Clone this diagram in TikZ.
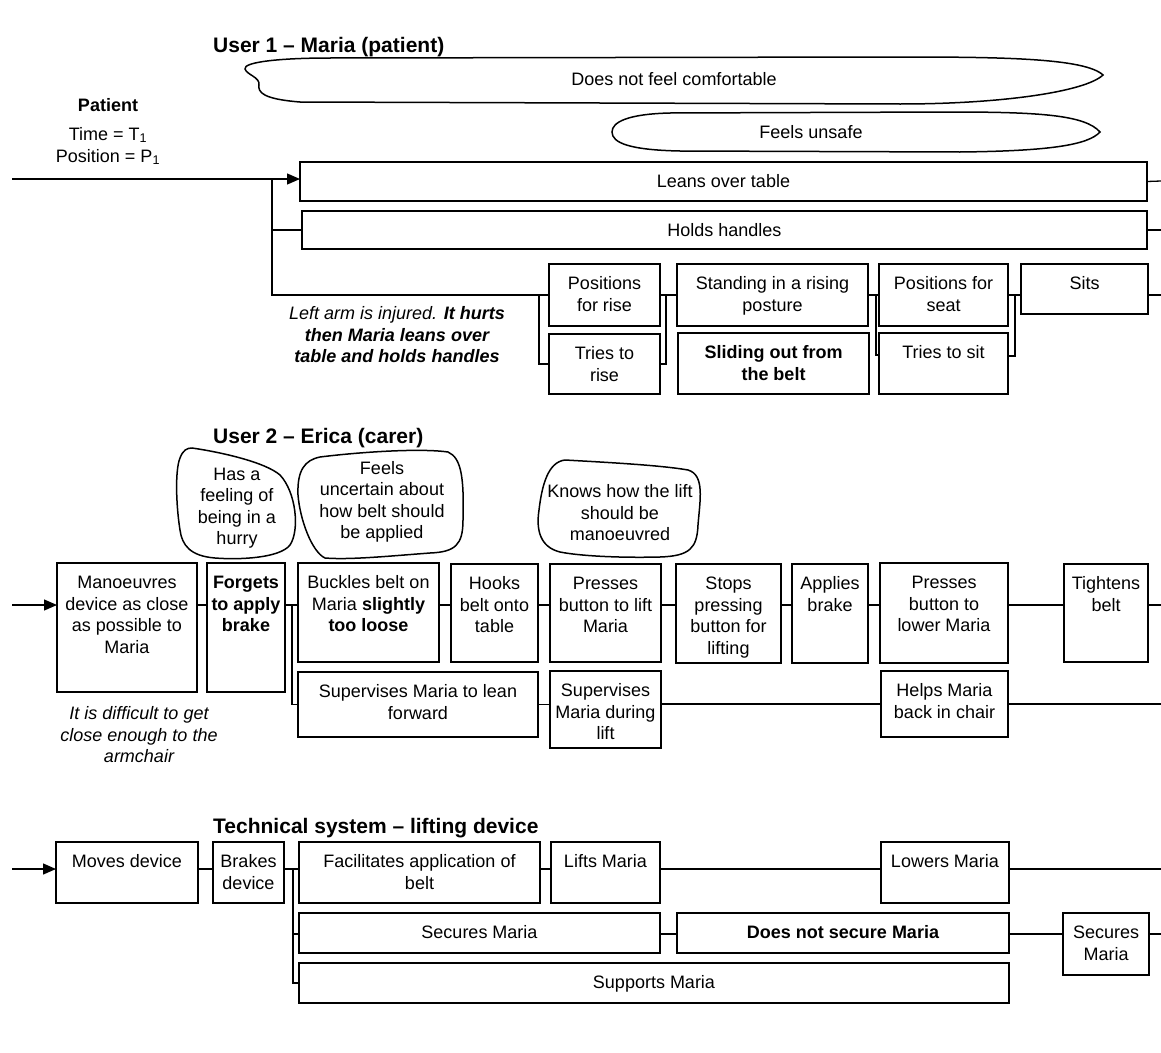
\documentclass[tikz,border=0pt]{standalone}
\usepackage{fontspec}
\setmainfont{Liberation Sans}
\usetikzlibrary{arrows.meta,calc}
\newcommand\fs{\fontsize{18}{21.5}\selectfont}
\tikzset{
  box/.style={draw, line width=1.5pt, inner sep=0pt, outer sep=0pt, font=\fs},
  ln/.style={line width=1.3pt},
  arr/.style={line width=1.3pt, -{Triangle[length=13pt,width=11pt]}},
  txt/.style={font=\fs, align=center, inner sep=0pt},
  ttl/.style={font=\fontsize{21}{25}\selectfont\bfseries, inner sep=0pt, anchor=west},
  blob/.style={line width=1.5pt},
}
\newcommand\bx[6]{%
  \pgfmathsetmacro\bxw{#4-#2}\pgfmathsetmacro\bxh{#5-#3}%
  \node[box, minimum width=\bxw pt, minimum height=\bxh pt] (#1) at ({(#2+#4)/2},{(#3+#5)/2})
    {\parbox[c][\bxh pt][t]{\bxw pt}{\centering\vspace*{10.9pt}\strut #6\par}};}
\begin{document}
\begin{tikzpicture}[x=1pt,y=-1pt]
\fill[white] (0,0) rectangle (1161,1052);
\useasboundingbox (0,0) rectangle (1161,1052);
% ---------- titles ----------
\node[ttl] (title1) at (213,47) {User 1 – Maria (patient)};
\node[ttl] (title2) at (213,438) {User 2 – Erica (carer)};
\node[ttl] (title3) at (213,828) {Technical system – lifting device};
% ---------- patient label ----------
\node[txt, font=\fs\bfseries] (patient) at (108,105) {Patient};
\node[txt] (time) at (108,135) {Time = T\textsubscript{1}};
\node[txt] (pos) at (108,157) {Position = P\textsubscript{1}};
% ---------- clouds (user 1) ----------
\draw[blob] (1103,75) .. controls (1085,58) and (1000,57) .. (900,57) -- (330,58)
  .. controls (280,58) and (243,62) .. (245,69) .. controls (247,75) and (260,77) .. (259,85)
  .. controls (258,92) and (262,99) .. (300,102) -- (900,104)
  .. controls (1000,104) and (1085,92) .. (1103,75) -- cycle;
\node[txt] (comf) at (674,79) {Does not feel comfortable};
\draw[blob] (1100,132) .. controls (1085,115) and (1040,112) .. (950,112) -- (670,113)
  .. controls (628,114) and (612,122) .. (612,132) .. controls (612,143) and (630,150) .. (680,151)
  -- (960,152) .. controls (1050,151) and (1088,145) .. (1100,132) -- cycle;
\node[txt] (unsafe) at (811,132) {Feels unsafe};
% ---------- user 1 boxes ----------
\bx{leans}{300}{162}{1147}{201}{Leans over table}
\bx{holds}{302}{211}{1147}{249}{Holds handles}
\bx{posrise}{549}{264}{660}{326}{Positions\\for rise}
\bx{tryrise}{549}{334}{660}{394}{Tries to\\rise}
\bx{standing}{677}{264}{868}{326}{Standing in a rising\\posture}
\bx{sliding}{678}{333}{869}{394}{\bfseries Sliding out from\\the belt}
\bx{posseat}{879}{264}{1008}{326}{Positions for\\seat}
\bx{trysit}{879}{333}{1008}{394}{Tries to sit}
\bx{sits}{1021}{264}{1148}{314}{Sits}
\node[txt] (note1) at (397,335) {\itshape Left arm is injured. \bfseries It hurts\\\bfseries\itshape then Maria leans over\\\bfseries\itshape table and holds handles};
% connectors user 1
\coordinate (s1) at (12,179);
\coordinate (j1) at (272,179);
\coordinate (j1b) at (272,295);
\coordinate (f1) at (539,295);
\coordinate (m1) at (666,295);
\coordinate (f2) at (876,295);
\coordinate (f2b) at (876,355);
\coordinate (m2) at (1015,295);
\coordinate (m2b) at (1015,356);
\coordinate (t1) at (1161,181);
\coordinate (t2) at (1161,230);
\coordinate (t3) at (1161,295);
\draw[arr] (s1) -- (s1 -| leans.west);
\draw[ln] (j1) |- (holds.west);
\draw[ln] (j1) -- (j1b) -- (j1b -| posrise.west);
\draw[ln] (f1) |- (tryrise.west);
\draw[ln] (tryrise.east) -| (m1);
\draw[ln] (m1 -| posrise.east) -- (m1 -| standing.west);
\draw[ln] (f2 -| standing.east) -- (f2 -| posseat.west);
\draw[ln] (f2) -- (f2b) -- (f2b -| trysit.west);
\draw[ln] (m2b -| trysit.east) -- (m2b) -- (m2);
\draw[ln] (m2 -| posseat.east) -- (m2 -| sits.west);
\draw[ln] (leans.east) -- (t1);
\draw[ln] (holds.east) -- (t2);
\draw[ln] (t3 -| sits.east) -- (t3);
% ---------- user 2 bubbles ----------
\draw[blob] (192,448) .. controls (220,452) and (265,462) .. (280,475)
  .. controls (296,492) and (300,530) .. (290,545) .. controls (280,558) and (240,560) .. (215,558)
  .. controls (190,556) and (182,545) .. (180,530) .. controls (176,505) and (175,470) .. (180,458)
  .. controls (183,450) and (187,448) .. (192,448) -- cycle;
\node[txt] (hurry) at (237,508) {Has a\\feeling of\\being in a\\hurry};
\draw[blob] (320,457) .. controls (360,452) and (420,448) .. (448,452)
  .. controls (462,458) and (464,480) .. (463,520) .. controls (463,545) and (455,552) .. (430,553)
  .. controls (390,556) and (350,560) .. (325,558) .. controls (312,552) and (300,520) .. (298,495)
  .. controls (297,470) and (305,460) .. (320,457) -- cycle;
\node[txt] (uncertain) at (382,502) {Feels\\uncertain about\\how belt should\\be applied};
\draw[blob] (565,460) .. controls (600,462) and (660,465) .. (688,470)
  .. controls (705,475) and (700,500) .. (698,525) .. controls (697,548) and (690,556) .. (660,557)
  .. controls (620,558) and (580,556) .. (560,552) .. controls (540,547) and (536,530) .. (539,510)
  .. controls (542,485) and (548,462) .. (565,460) -- cycle;
\node[txt] (knows) at (620,513) {Knows how the lift\\should be\\manoeuvred};
% ---------- user 2 boxes ----------
\bx{manoeuvre}{57}{563}{197}{692}{Manoeuvres\\device as close\\as possible to\\Maria}
\bx{forgets}{207}{563}{285}{692}{\bfseries Forgets\\to apply\\brake}
\bx{buckles}{298}{563}{439}{662}{Buckles belt on\\Maria \textbf{slightly}\\\textbf{too loose}}
\bx{hooks}{451}{564}{538}{662}{Hooks\\belt onto\\table}
\bx{presslift}{550}{564}{661}{662}{Presses\\button to lift\\Maria}
\bx{stops}{676}{564}{781}{663}{Stops\\pressing\\button for\\lifting}
\bx{applies}{792}{564}{868}{663}{Applies\\brake}
\bx{presslower}{880}{563}{1008}{663}{Presses\\button to\\lower Maria}
\bx{tightens}{1064}{564}{1148}{662}{Tightens\\belt}
\bx{superlean}{298}{672}{538}{737}{Supervises Maria to lean\\forward}
\bx{superlift}{550}{671}{661}{748}{Supervises\\Maria during\\lift}
\bx{helps}{881}{671}{1008}{737}{Helps Maria\\back in chair}
\node[txt, font=\fs\itshape] (note2) at (139,735) {It is difficult to get\\close enough to the\\armchair};
% connectors user 2
\coordinate (s2) at (12,605);
\coordinate (f3) at (292,605);
\coordinate (t4) at (1161,605);
\coordinate (r2) at (661,704);
\coordinate (t5) at (1161,704);
\draw[arr] (s2) -- (s2 -| manoeuvre.west);
\draw[ln] (s2 -| manoeuvre.east) -- (s2 -| forgets.west);
\draw[ln] (s2 -| forgets.east) -- (s2 -| buckles.west);
\draw[ln] (f3) |- (superlean.west);
\draw[ln] (s2 -| buckles.east) -- (s2 -| hooks.west);
\draw[ln] (s2 -| hooks.east) -- (s2 -| presslift.west);
\draw[ln] (s2 -| presslift.east) -- (s2 -| stops.west);
\draw[ln] (s2 -| stops.east) -- (s2 -| applies.west);
\draw[ln] (s2 -| applies.east) -- (s2 -| presslower.west);
\draw[ln] (s2 -| presslower.east) -- (s2 -| tightens.west);
\draw[ln] (s2 -| tightens.east) -- (t4);
\draw[ln] (superlean.east) -- (superlean.east -| superlift.west);
\draw[ln] (r2 -| superlift.east) -- (r2 -| helps.west);
\draw[ln] (r2 -| helps.east) -- (t5);
% ---------- technical system ----------
\bx{moves}{56}{842}{198}{903}{Moves device}
\bx{brakes}{213}{842}{284}{903}{Brakes\\device}
\bx{facil}{299}{842}{540}{903}{Facilitates application of\\belt}
\bx{lifts}{551}{842}{660}{903}{Lifts Maria}
\bx{lowers}{881}{842}{1009}{903}{Lowers Maria}
\bx{secures}{299}{913}{660}{953}{Secures Maria}
\bx{notsecure}{677}{913}{1009}{953}{\bfseries Does not secure Maria}
\bx{securesb}{1063}{913}{1149}{975}{Secures\\Maria}
\bx{supports}{299}{963}{1009}{1003}{Supports Maria}
\coordinate (s3) at (12,869);
\coordinate (f4) at (293,869);
\coordinate (t6) at (1161,869);
\coordinate (r3) at (660,934);
\coordinate (t7) at (1161,934);
\draw[arr] (s3) -- (s3 -| moves.west);
\draw[ln] (s3 -| moves.east) -- (s3 -| brakes.west);
\draw[ln] (s3 -| brakes.east) -- (s3 -| facil.west);
\draw[ln] (s3 -| facil.east) -- (s3 -| lifts.west);
\draw[ln] (s3 -| lifts.east) -- (s3 -| lowers.west);
\draw[ln] (s3 -| lowers.east) -- (t6);
\draw[ln] (f4) |- (r3 -| secures.west);
\draw[ln] (f4) |- (supports.west);
\draw[ln] (r3) -- (r3 -| notsecure.west);
\draw[ln] (r3 -| notsecure.east) -- (r3 -| securesb.west);
\draw[ln] (r3 -| securesb.east) -- (t7);
\end{tikzpicture}
\end{document}
